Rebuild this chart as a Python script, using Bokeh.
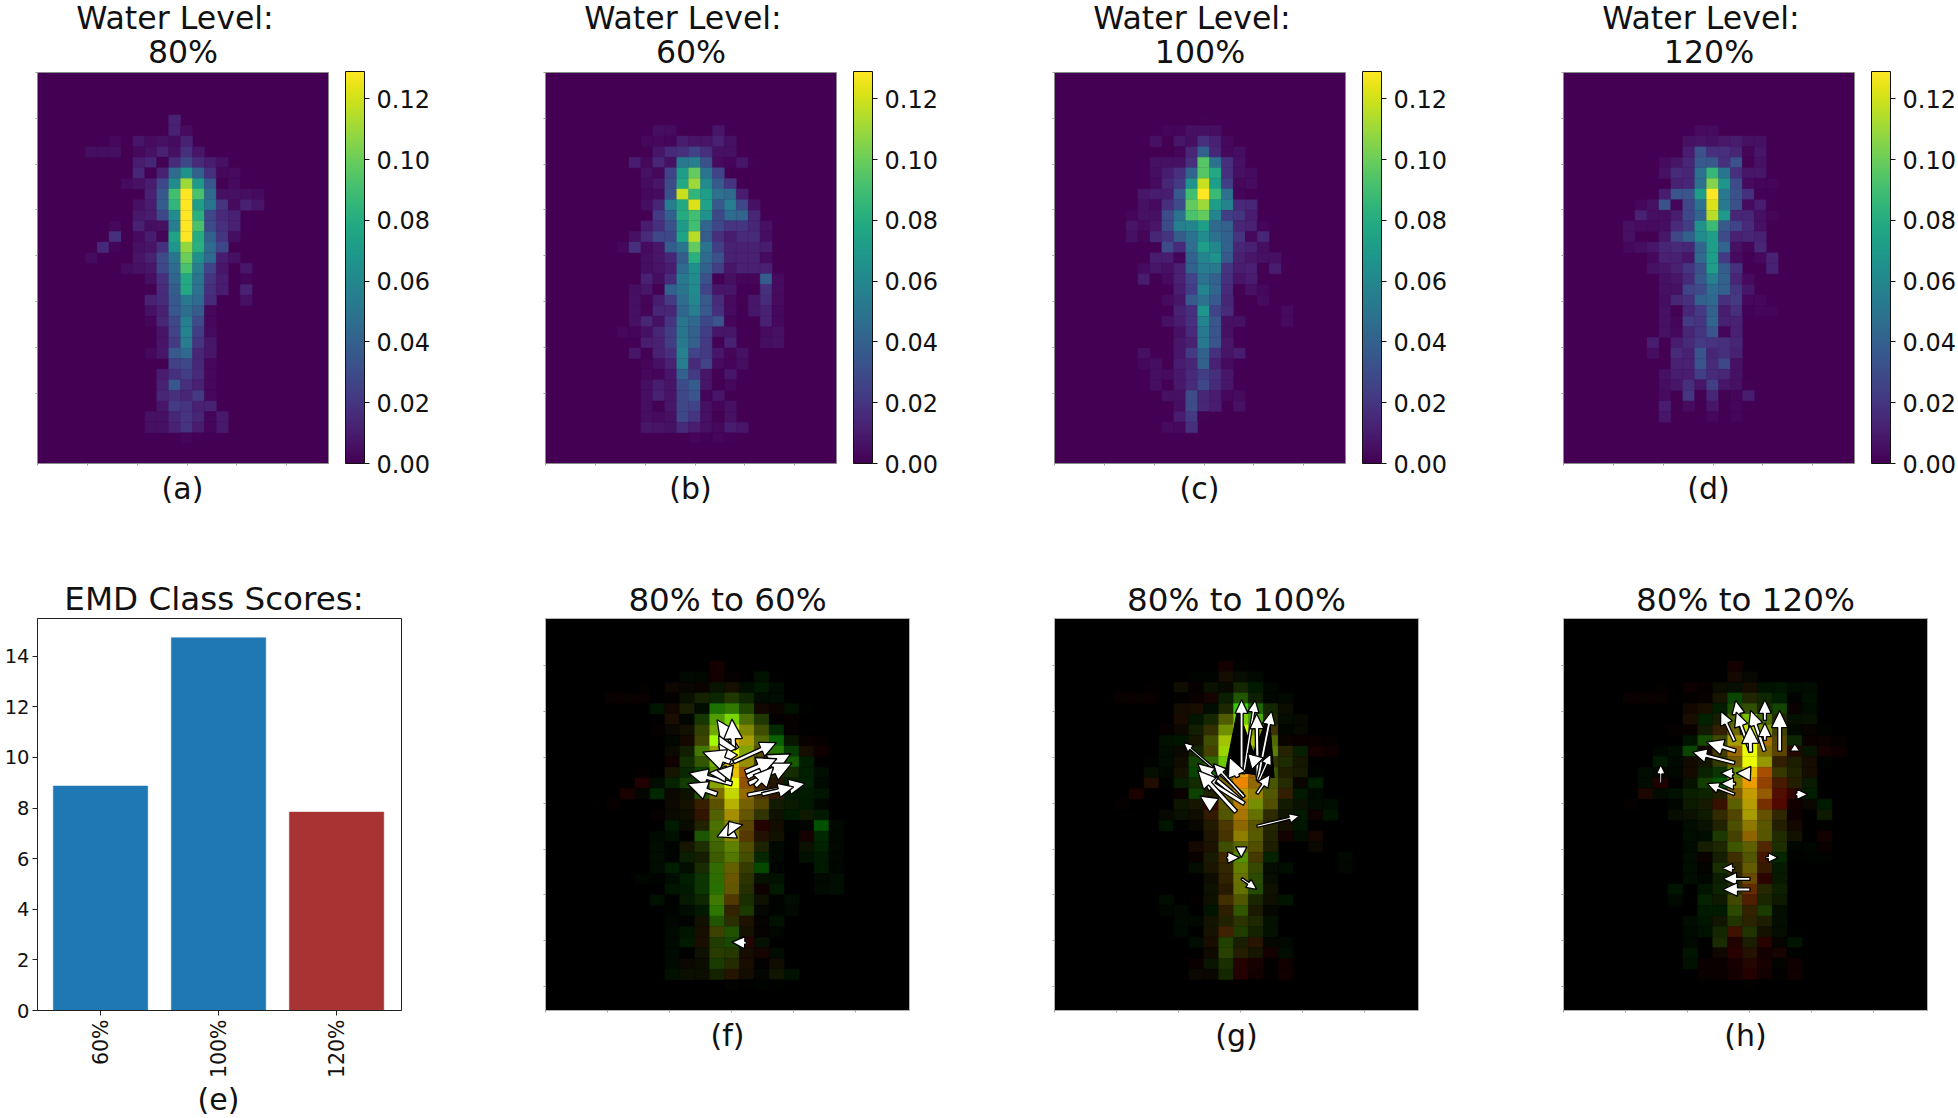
import math
import numpy as np
from bokeh.embed import file_html
from bokeh.layouts import column, row
from bokeh.models import ColorBar, CustomJSTickFormatter, FixedTicker, Label, LinearColorMapper, PrintfTickFormatter, Range1d
from bokeh.palettes import Viridis256
from bokeh.plotting import figure
from bokeh.resources import INLINE

# heat maps: (row, first column, values in thousandths)
LEVEL_80 = [
 (4,11,[12]),(5,11,[12,4]),(6,6,[3,0,8,4,6,4,12]),(7,4,[5,5,5,0,3,6,12,6,18,8]),
 (8,8,[10,14,1,16,28,16,10,6]),(9,8,[14,1,12,45,66,40,18,3,4]),(10,7,[4,6,10,28,62,110,70,35,1,4]),
 (11,9,[12,35,90,129,92,45,6,6,5,4]),(12,8,[6,10,38,85,129,72,50,20,4,12,8]),(13,8,[9,10,28,62,129,82,28,16,12]),
 (14,6,[3,0,12,5,6,55,129,92,30,18,12]),(15,6,[18,0,4,10,2,75,129,80,40,20,5]),(16,5,[15,2,0,6,7,18,68,108,82,45,28]),
 (17,4,[4,0,0,0,7,12,30,50,100,65,45,10,6]),(18,7,[4,6,8,28,45,92,55,26,8,0,8]),(19,9,[5,18,42,78,50,20,10,0,2]),
 (20,9,[1,16,38,78,48,18,10,0,12]),(21,9,[12,16,35,52,45,16,0,0,6]),(22,9,[6,12,35,46,38,3]),(23,9,[2,14,28,55,30,3]),
 (24,10,[7,26,58,24,4]),(25,10,[7,22,54,20,8]),(26,9,[3,8,36,44,14,8]),(27,11,[25,28,15,3]),(28,10,[10,18,24,16,3]),
 (29,10,[12,35,18,12,3]),(30,10,[14,18,14,22,3]),(31,10,[8,22,20,12,12]),(32,9,[6,6,14,20,14,2,9]),(33,9,[6,6,12,20,10,2,9]),
 (34,12,[2,1]),
]
LEVEL_60 = [
 (5,9,[5,4,0,0,0,8]),(6,8,[3,3,2,10,7,7,12,6]),(7,9,[8,16,18,26,18,6,6]),(8,7,[10,3,14,6,52,56,32,4,2,8,1]),
 (9,8,[6,3,26,72,98,50,26]),(10,8,[4,8,30,78,110,62,36,20]),(11,8,[3,4,32,118,85,72,48,45,10]),
 (12,8,[5,14,55,78,122,75,36,55,28,6]),(13,9,[22,40,80,90,66,28,45,42,14]),(14,8,[10,18,32,70,90,42,28,20,20,14,6]),
 (15,7,[6,16,28,28,75,115,38,18,10,16,16,5]),(16,6,[3,18,4,8,38,50,98,50,24,12,12,12,10]),(17,8,[5,8,14,38,82,45,32,12,12,12,4]),
 (18,8,[5,7,10,45,65,40,24,8,12,12,12]),(19,8,[12,5,16,52,62,32,1,6,2,2,38,4]),(20,7,[5,8,1,40,50,62,26,8,8,0,0,18,4]),
 (21,7,[6,2,10,22,46,60,36,16,4,1,8,16,4]),(22,7,[6,2,14,14,42,55,36,18,4,0,8,12,3]),(23,7,[6,14,6,20,50,44,28,34,2,0,0,12,3]),
 (24,6,[3,2,6,14,24,50,40,24,8,8,0,0,4,6]),(25,8,[10,12,24,52,40,22,1,12,0,0,5,6]),(26,7,[8,1,12,18,56,26,22,8,2,6]),
 (27,8,[2,6,12,55,16,26,4,2,5]),(28,8,[3,2,8,40,22,8,1,8]),(29,8,[5,10,7,30,38,8,1,3]),(30,8,[5,12,7,28,34,2,8]),
 (31,8,[5,1,8,28,26,6,2,6]),(32,8,[5,4,6,28,20,6,1,6]),(33,8,[8,7,6,16,10,6,3,10,8]),(34,12,[2,1,2,1]),
]
LEVEL_100 = [
 (4,12,[1]),(5,9,[2,2,6,6,5]),(6,8,[6,0,8,5,18,12,3]),(7,10,[2,14,40,14,3,5]),(8,8,[6,6,6,18,95,48,18,6]),
 (9,8,[5,10,18,42,95,78,18,6,4]),(10,8,[4,14,22,66,118,72,24,3,4]),(11,7,[8,10,10,36,90,129,88,48,2]),
 (12,7,[6,4,18,30,98,110,72,58,16,14]),(13,6,[2,6,6,30,48,92,98,58,24,20,10]),(14,6,[7,4,8,30,56,58,72,44,40,14,12,2]),
 (15,6,[6,2,14,20,38,48,62,48,40,20,3,14]),(16,9,[30,16,46,72,60,40,14,12,5]),(17,8,[10,10,2,40,58,66,36,12,8,6,6]),
 (18,7,[4,8,6,12,40,54,52,20,10,12,1,10]),(19,7,[10,1,4,12,26,48,40,18,7,10]),(20,10,[10,24,58,42,16,1,6,3]),
 (21,9,[4,8,36,48,36,14,0,0,4]),(22,10,[12,18,68,26,16,0,0,0,0,4]),(23,9,[6,10,18,58,34,6,6,0,0,0,4]),(24,10,[6,16,52,34,6]),
 (25,10,[8,12,52,34,8]),(26,7,[6,0,0,8,22,40,18,7,10]),(27,7,[3,5,0,10,14,40,12,4]),(28,8,[5,4,9,16,24,18,8]),
 (29,8,[5,0,9,16,28,16,8]),(30,9,[6,6,30,14,10,3,4]),(31,10,[5,30,14,10,0,6]),(32,10,[10,22,1]),(33,9,[4,3,18]),
]
LEVEL_120 = [
 (5,11,[4,4]),(6,10,[6,7,6,9,10,6,6]),(7,10,[10,32,18,18,14,2,8]),(8,8,[4,7,14,36,36,18,32,1,6]),(9,8,[6,16,14,48,86,50,18,8,8]),
 (10,9,[12,14,48,105,68,30,4,2,2]),(11,8,[10,34,34,72,129,52,32,18,1,1]),(12,6,[3,6,32,2,28,48,122,52,32,4,10,1]),
 (13,6,[12,5,5,10,28,42,115,70,14,14,6,2]),(14,5,[6,4,4,5,16,24,66,88,36,26,16,6]),(15,5,[6,0,0,8,28,40,62,72,30,12,14,12]),
 (16,5,[3,5,8,14,16,14,42,72,42,6,2,14]),(17,7,[3,12,12,8,44,72,22,4,0,3,12]),(18,7,[6,8,12,20,32,72,38,18,0,0,12]),
 (19,8,[6,8,16,36,56,40,14,4]),(20,8,[6,6,26,30,46,40,20,8]),(21,8,[5,14,18,40,44,18,22,3,3]),(22,8,[6,1,14,22,40,10,18,1,2,2]),
 (23,8,[6,2,22,20,42,12,12]),(24,8,[6,3,14,20,34,2,12]),(25,7,[10,0,10,16,22,20,18,14]),(26,7,[5,0,16,12,34,14,18,12]),
 (27,9,[12,12,34,16,28,6]),(28,8,[6,10,10,24,16,14,6]),(29,8,[5,8,18,8,24,8,6,1]),(30,8,[4,0,20,1,14,1,2,10]),
 (31,8,[10,0,4,0,8,0,2,1]),(32,8,[8,0,0,0,3,0,2]),
]

BAR_LABELS = ["60%", "100%", "120%"]
BAR_VALUES = [8.87, 14.73, 7.84]
BAR_COLORS = ["#1f77b4", "#1f77b4", "#a83333"]
BAR_TICKS = [0, 2, 4, 6, 8, 10, 12, 14]
COLORBAR_TICKS = [0.0, 0.02, 0.04, 0.06, 0.08, 0.10, 0.12]
VMAX = 0.129

# displacement arrows in heat-map cells: tail col, tail row, tip col, tip row, shaft width
ARROWS_60 = [
 (12.83,12.26,11.50,9.53,3.6),(12.61,12.26,12.50,9.47,3.6),(12.28,12.73,11.61,11.00,3.6),(12.50,13.67,11.61,11.79,3.6),
 (12.39,13.51,10.54,12.57,4.2),(12.61,13.51,15.47,11.69,2.8),(13.50,14.92,16.45,12.73,4.2),(13.62,15.55,16.52,13.61,3.6),
 (13.39,14.45,15.51,13.20,3.6),(14.06,15.80,15.29,13.98,3.6),(13.55,16.61,17.41,15.55,2.8),(14.51,16.55,16.63,15.86,2.6),
 (12.50,15.55,9.60,14.55,3.4),(12.50,14.67,10.94,14.55,3),(12.50,14.55,11.50,14.30,3),(11.50,16.55,9.53,15.55,3.6),
 (12.61,19.87,11.50,20.56,3.6),(12.72,19.94,12.28,19.09,3.6),(13.46,30.53,12.50,30.47,2),
]
ARROWS_100 = [
 (12.54,14.55,12.54,7.65,2.2),(12.68,14.61,13.46,7.71,1.8),(13.62,14.92,13.55,8.97,2.5),(13.62,15.24,14.55,8.71,2.2),
 (13.66,15.39,14.51,12.73,1.6),(13.57,16.49,14.46,14.67,2),(12.61,16.49,8.66,11.69,1.2),(12.72,16.80,10.65,13.67,2),
 (12.50,17.12,9.60,13.67,2.8),(12.72,17.43,9.71,14.77,3),(12.17,18.21,9.60,14.30,3.2),(12.28,14.92,11.72,13.04,3.5),
 (13.62,13.67,12.95,12.73,3),(10.71,17.59,9.75,16.71,3),(13.57,19.56,16.41,18.59,1.4),(11.54,22.51,12.41,22.51,1.8),
 (12.52,21.50,12.52,22.51,1.8),(12.54,24.48,13.55,25.49,1.4),
]
ARROWS_120 = [
 (11.47,11.54,10.54,8.72,2.2),(11.99,10.85,11.54,7.71,2.2),(12.54,12.57,11.58,8.81,2.4),(13.48,12.48,12.54,8.65,2.6),
 (13.50,9.59,13.50,7.65,2.2),(13.50,11.47,13.50,9.84,2.2),(14.49,12.48,14.49,8.65,3),(12.54,12.57,12.50,10.06,3.2),
 (11.54,12.48,9.58,11.63,3),(11.47,13.60,8.64,12.57,2.4),(15.51,12.48,15.51,11.79,1.4),(6.52,15.49,6.52,13.76,1.2),
 (11.43,14.61,10.54,14.55,1.8),(12.54,14.61,11.58,14.55,2.6),(11.54,15.55,10.54,15.55,2),(11.47,16.55,9.64,15.55,1.8),
 (15.56,16.55,16.38,16.55,1.6),(13.55,22.51,14.38,22.51,1.3),(11.47,23.51,10.65,23.51,1.4),(12.50,24.51,10.69,24.51,2.2),
 (12.50,25.51,10.69,25.51,2.4),
]
# black wedges left by the overlapping arrow edges in the 100% panel: base col, base row, tip col, tip row, half width
SHADES_100 = [(12.61,14.61,12.28,8.50,18),(13.73,14.76,14.40,8.97,15)]

FONT = "DejaVu Sans"
NROWS, NCOLS = 37, 25
TEXT = "#111111"
CW, CH = 14.93, 10.63
RED_GAIN, GREEN_GAIN = 0.92, 1.1


def grid(rows):
    m = np.zeros((NROWS, NCOLS))
    for r, c, vals in rows:
        for i, v in enumerate(vals):
            m[r, c + i] = v / 1000.0
    return m


def add_text(p, x, y, text, size, side):
    # labels in a side panel are placed relative to their own stacked box
    p.add_layout(Label(x=x, y=y, x_units="screen", y_units="screen", text=text,
                       text_align="center", text_baseline="alphabetic", text_font=FONT,
                       text_font_size=size, text_color=TEXT), side)


def base_fig(fx0, fig_w, frame_w, fig_h, top, frame_h, xr, yr, bg):
    p = figure(width=fig_w, height=fig_h, x_range=Range1d(*xr), y_range=Range1d(*yr),
               toolbar_location=None, output_backend="svg",
               min_border_left=fx0, min_border_right=fig_w - fx0 - frame_w,
               min_border_top=top, min_border_bottom=fig_h - top - frame_h,
               background_fill_color=bg, border_fill_color="white")
    p.grid.visible = False
    p.outline_line_color = "#8a8a8a"
    p.outline_line_width = 1
    return p


def style_dots(p, xt, yt):
    for ax, t in ((p.xaxis[0], xt), (p.yaxis[0], yt)):
        ax.ticker = FixedTicker(ticks=t)
        ax.formatter = CustomJSTickFormatter(code="return ''")
        ax.major_label_standoff = 0
        ax.axis_line_color = None
        ax.minor_tick_line_color = None
        ax.major_tick_in = 0
        ax.major_tick_out = 6
        ax.major_tick_line_color = "#a0a0a0"
        ax.major_tick_line_dash = "0 4 2"


X_TICKS = [4.18 * k for k in range(6)]
Y_TICKS = [4.325 * k for k in range(8)]
mapper = LinearColorMapper(palette=Viridis256, low=0, high=VMAX)


def viridis_hex(v):
    return Viridis256[min(255, int(v / VMAX * 255.999))]


def level_panel(fx0, offset, fig_w, rows, sub, letter):
    frame_w, frame_h, top = 291, 392, 71
    p = base_fig(fx0 - offset, fig_w, frame_w, 560, top, frame_h, (0, 24.4), (36.9, 0), "#440154")
    m = grid(rows)
    rr, cc = np.nonzero(m)
    cols = [viridis_hex(m[r, c]) for r, c in zip(rr, cc)]
    p.quad(left=cc, right=cc + 1, top=rr, bottom=rr + 1, fill_color=cols, line_color=cols, line_width=0.4)
    style_dots(p, X_TICKS, Y_TICKS)
    bar = ColorBar(color_mapper=mapper, location=(17, 0), width=19, height=frame_h, padding=0, margin=0,
                   ticker=FixedTicker(ticks=COLORBAR_TICKS), formatter=PrintfTickFormatter(format="%.2f"),
                   major_label_text_font_size="24px", major_label_text_font=FONT, major_label_text_color=TEXT,
                   major_tick_in=0, major_tick_out=5, major_tick_line_color="#111111",
                   bar_line_color="#111111", label_standoff=7, minor_tick_line_color=None)
    p.add_layout(bar, "right")
    add_text(p, 137.5, 54.5, "Water Level:", "31.6px", "above")
    add_text(p, 145.5, -15, sub, "31.6px", "above")
    add_text(p, 145, 16, letter, "30px", "below")
    return p


FIG_H2 = 558
TOP2 = 58


def arrow_polys(arrows, whole_head=False):
    xs, ys = [], []
    for x0, y0, x1, y1, w in arrows:
        dx, dy = (x1 - x0) * CW, (y1 - y0) * CH
        L = math.hypot(dx, dy)
        ux, uy = dx / L, dy / L
        nx, ny = -uy, ux
        if whole_head:
            pts = [(0, w), (L, 0), (0, -w)]
        else:
            w2 = w + 0.9
            hl = min(L, 4.4 * w2)
            hw = 2.1 * w2
            sw = w2 / 2
            b = L - hl
            if hl < L:
                pts = [(0, sw), (b, sw), (b, hw), (L, 0), (b, -hw), (b, -sw), (0, -sw)]
            else:
                pts = [(0, hw), (L, 0), (0, -hw)]
        xs.append([x0 + (a * ux + d * nx) / CW for a, d in pts])
        ys.append([y0 + (a * uy + d * ny) / CH for a, d in pts])
    return xs, ys


def diff_panel(fx0, offset, fig_w, rows_r, rows_g, arrows, title, letter, shades=()):
    frame_w, frame_h = 364, 392
    p = base_fig(fx0 - offset, fig_w, frame_w, FIG_H2, TOP2, frame_h, (0, 24.4), (36.9, 0), "#000000")
    p.outline_line_color = "#b0b0b0"
    r_m, g_m = grid(rows_r), grid(rows_g)
    rr, cc = np.nonzero(r_m + g_m)
    cols = []
    for r, c in zip(rr, cc):
        cols.append("#%02x%02x00" % (min(255, int(r_m[r, c] / VMAX * 255 * RED_GAIN)),
                                     min(255, int(g_m[r, c] / VMAX * 255 * GREEN_GAIN))))
    p.quad(left=cc, right=cc + 1, top=rr, bottom=rr + 1, fill_color=cols, line_color=cols, line_width=0.4)
    style_dots(p, [4.16 * k for k in range(6)], [4.4 + 4.325 * k for k in range(8)])
    if shades:
        sx, sy = arrow_polys(shades, whole_head=True)
        p.patches(sx, sy, fill_color="black", line_color="black", line_width=1)
    xs, ys = arrow_polys(arrows)
    p.patches(xs, ys, fill_color="white", line_color="black", line_width=1.3)
    add_text(p, 182, 18.5, title, "32.6px", "above")
    add_text(p, 182, 16, letter, "30px", "below")
    return p


pa = level_panel(37, 0, 520, LEVEL_80, "80%", "(a)")
pb = level_panel(545, 520, 510, LEVEL_60, "60%", "(b)")
pc = level_panel(1054, 1030, 510, LEVEL_100, "100%", "(c)")
pd_ = level_panel(1563, 1540, 418, LEVEL_120, "120%", "(d)")

# bar panel
pe = base_fig(37, 520, 364, FIG_H2, TOP2, 392, (-0.534, 2.55), (0, 15.49), "white")
pe.outline_line_color = "#222222"
pe.vbar(x=list(range(len(BAR_VALUES))), top=BAR_VALUES, width=0.8, fill_color=BAR_COLORS, line_color=BAR_COLORS, line_width=0.5)
pe.xaxis[0].ticker = FixedTicker(ticks=list(range(len(BAR_LABELS))))
pe.xaxis[0].major_label_overrides = {i: s for i, s in enumerate(BAR_LABELS)}
pe.xaxis[0].major_label_orientation = math.pi / 2
pe.yaxis[0].ticker = FixedTicker(ticks=BAR_TICKS)
for ax, size, standoff in ((pe.xaxis[0], "20.5px", 4), (pe.yaxis[0], "19.5px", 3)):
    ax.major_label_text_font = FONT
    ax.major_label_text_font_size = size
    ax.major_label_text_color = TEXT
    ax.major_tick_in = 0
    ax.major_tick_out = 5
    ax.minor_tick_line_color = None
    ax.axis_line_color = "#222222"
    ax.major_tick_line_color = "#222222"
    ax.major_label_standoff = standoff
add_text(pe, 176.5, 19.5, "EMD Class Scores:", "32.6px", "above")
add_text(pe, 181, 17, "(e)", "30px", "below")

pf = diff_panel(545, 520, 510, LEVEL_80, LEVEL_60, ARROWS_60, "80% to 60%", "(f)")
pg = diff_panel(1054, 1030, 510, LEVEL_80, LEVEL_100, ARROWS_100, "80% to 100%", "(g)", shades=SHADES_100)
ph = diff_panel(1563, 1540, 418, LEVEL_80, LEVEL_120, ARROWS_120, "80% to 120%", "(h)")

root = column(row(pa, pb, pc, pd_, spacing=0), row(pe, pf, pg, ph, spacing=0), spacing=0)
open("out.html", "w").write(file_html(root, INLINE))
